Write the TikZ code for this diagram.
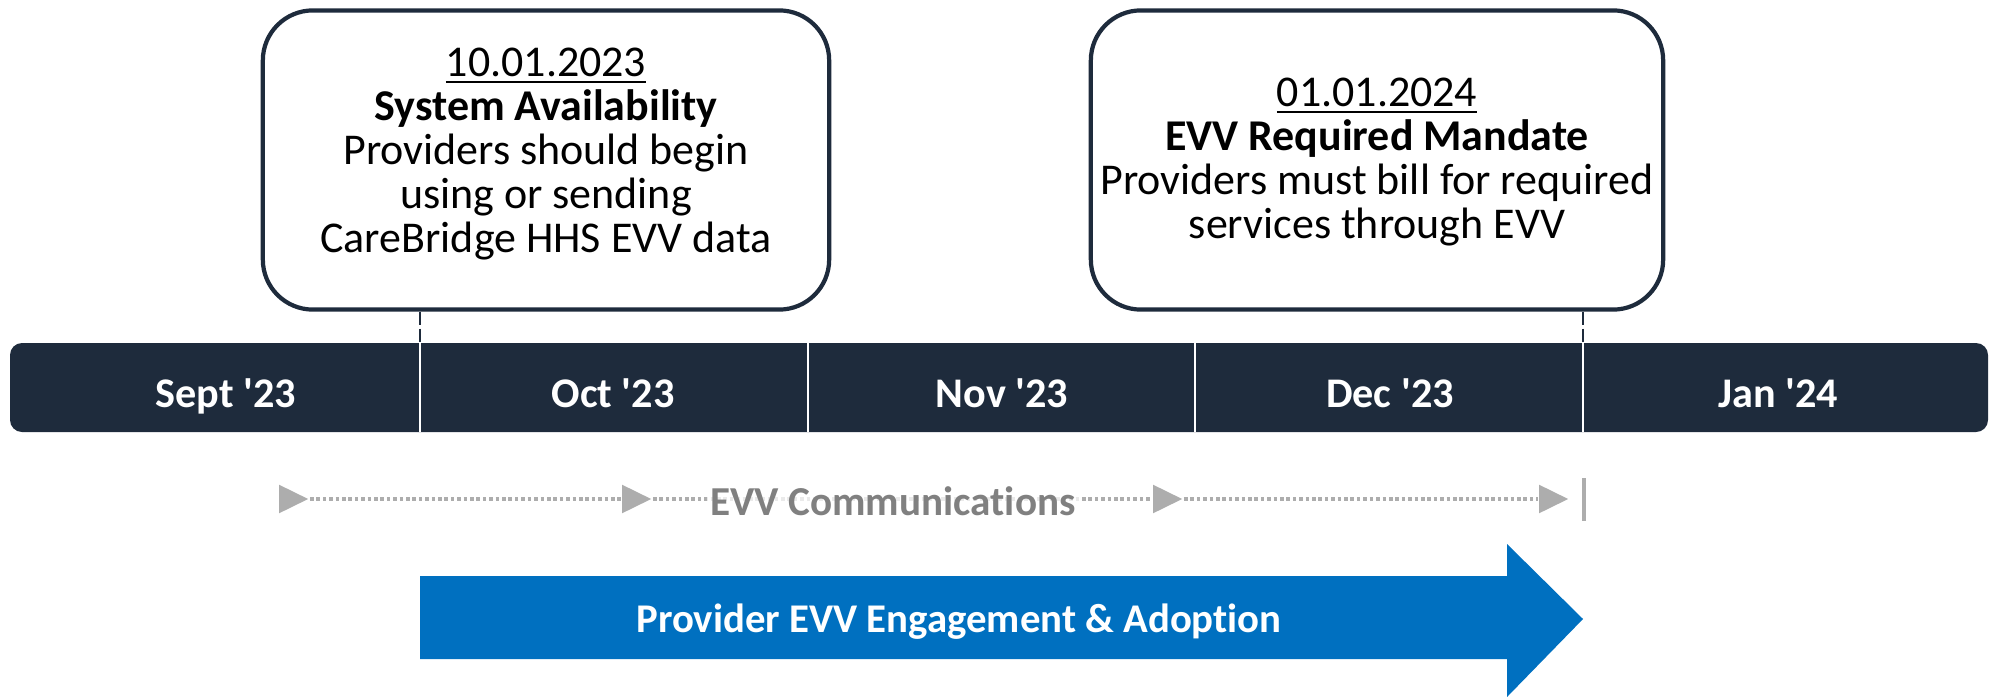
\documentclass[tikz,border=0pt]{standalone}
\usepackage{fontspec}
\setmainfont{Carlito}[Ligatures={NoCommon,TeXOff}]
\usepackage{tikz}
\usetikzlibrary{shapes, arrows.meta, positioning}
\definecolor{navy}{HTML}{1E2B3C}
\definecolor{provblue}{HTML}{0070C0}
\definecolor{commgray}{HTML}{ADADAD}
\definecolor{commtext}{HTML}{808080}

\begin{document}
\begin{tikzpicture}[x=0.01cm, y=-0.01cm,
    callout/.style={draw=navy, line width=1.2pt, fill=white, rectangle, rounded corners=0.5cm, minimum height=2.99cm},
    calltext/.style={align=center, font=\fontsize{12.5}{12.5}\selectfont, text=black},
    month/.style={anchor=base, text=white, font=\fontsize{12}{14}\selectfont\bfseries},
    divider/.style={draw=white, line width=0.6pt},
    tick/.style={draw=navy, line width=0.7pt, dash pattern=on 1.3mm off 0.4mm},
    marker/.style={isosceles triangle, isosceles triangle stretches, fill=commgray, inner sep=0pt, minimum width=2.85mm, minimum height=2.9mm},
    dots/.style={draw=commgray, line width=1.3pt, dash pattern=on 0.36mm off 0.28mm},
    commlabel/.style={text=commtext, font=\fontsize{11.7}{14}\selectfont\bfseries, fill=white, fill opacity=0.75, text opacity=1, inner sep=1pt},
    bartext/.style={text=white, font=\fontsize{11.6}{14}\selectfont\bfseries}
]
\useasboundingbox (0,0) rectangle (1994,697);

% timeline bar
\fill[navy, rounded corners=0.12cm] (10,343) rectangle (1988,432);
\foreach \x in {420,808,1195,1583}
    \draw[divider] (\x,343) -- (\x,432);
\node[month] (sep) at (226,407) {Sept '23};
\node[month] (oct) at (613,407) {Oct '23};
\node[month] (nov) at (1002,407) {Nov '23};
\node[month] (dec) at (1390,407) {Dec '23};
\node[month] (jan) at (1778,407) {Jan '24};

% callouts
\node[callout, minimum width=5.66cm] (box1) at (546,160) {};
\node[calltext] (text1) at (546,154) {\underline{10.01.2023}\\ \textbf{System Availability}\\ Providers should begin\\ using or sending\\ CareBridge HHS EVV data};
\node[callout, minimum width=5.72cm] (box2) at (1377,160) {};
\node[calltext] (text2) at (1377,162) {\underline{01.01.2024}\\ \textbf{EVV Required Mandate}\\ Providers must bill for required\\ services through EVV};

\coordinate (d1) at (420,343);
\coordinate (d4) at (1583,343);
\draw[tick] (box1.south -| d1) -- (d1);
\draw[tick] (box2.south -| d4) -- (d4);

% communications
\node[marker] (k1) at (288,499) {};
\node[marker] (k2) at (631,499) {};
\node[marker] (k3) at (1162,499) {};
\node[marker] (k4) at (1548,499) {};
\draw[dots] (k1.apex) -- (k2.west);
\draw[dots] (k2.apex) -- (k3.west);
\draw[dots] (k3.apex) -- (k4.west);
\draw[commgray, line width=1.4pt] (1584,478) -- (1584,521);
\node[commlabel] (comm) at (893,501) {EVV Communications};

% adoption arrow
\fill[provblue] (420,576) -- (1507,576) -- (1507,544) -- (1583,619) -- (1507,697) -- (1507,659) -- (420,659) -- cycle;
\node[bartext] (adopt) at (959,622) {Provider EVV Engagement \& Adoption};
\end{tikzpicture}
\end{document}
